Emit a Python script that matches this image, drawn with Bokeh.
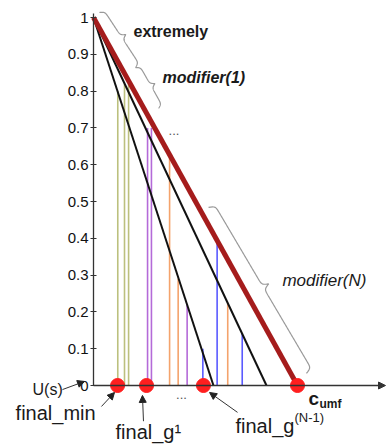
import numpy as np
from bokeh.plotting import figure
from bokeh.models import (LinearAxis, FixedTicker, Range1d, Arrow, NormalHead)
from bokeh.core.properties import value
from bokeh.embed import file_html
from bokeh.resources import INLINE

# ---------------- data ----------------
y_ticks = [0, 0.1, 0.2, 0.3, 0.4, 0.5, 0.6, 0.7, 0.8, 0.9, 1.0]
y_tick_labels = ["0", "0.1", "0.2", "0.3", "0.4", "0.5", "0.6", "0.7", "0.8", "0.9", "1"]

black_intercepts = [0.588, 0.848]     # black lines from (0,1) to (x,0)
red_intercept = 1.0                   # c_umf

vline_x = [0.119, 0.152, 0.172, 0.265, 0.284, 0.373, 0.415, 0.459, 0.536, 0.606, 0.658, 0.729]
vline_top = [0.80, 0.82, 0.82, 0.70, 0.70, 0.62, 0.29, 0.22, 0.10, 0.39, 0.225, 0.14]
vline_group = ["olive", "olive", "olive", "purple", "purple", "orange", "orange",
               "purple", "blue", "blue", "orange", "blue"]
group_colors = {"olive": "#bcc07e", "purple": "#b46ad8", "orange": "#f4a36c", "blue": "#5a5aff"}

dot_x = [0.118, 0.260, 0.539, 1.0]    # final_min, final_g1, final_g(N-1), c_umf

# ---------------- layout constants ----------------
W, H = 388, 446
AX_LEFT = 93          # pixel position of y axis in figure
AX_BOTTOM = 385       # pixel position of y=0 from top
PXX, PXY = 204.0, 368.0

p = figure(width=W, height=H,
           x_range=Range1d(-AX_LEFT / PXX, (W - AX_LEFT) / PXX),
           y_range=Range1d((AX_BOTTOM - H) / PXY, AX_BOTTOM / PXY),
           x_axis_type=None, y_axis_type=None,
           output_backend="svg", toolbar_location=None, min_border=0)
p.outline_line_color = None
p.background_fill_color = "white"
p.border_fill_color = "white"

# y axis at x = 0
yaxis = LinearAxis(fixed_location=0, ticker=FixedTicker(ticks=y_ticks), bounds=(0, 1.01))
yaxis.major_label_overrides = {t: l for t, l in zip(y_ticks, y_tick_labels)}
yaxis.axis_line_color = "#333333"
yaxis.axis_line_width = 1.3
yaxis.major_tick_line_color = "#333333"
yaxis.major_tick_in = 3
yaxis.major_tick_out = 3
yaxis.minor_tick_line_color = None
yaxis.major_label_standoff = 2
yaxis.major_label_text_font = "Liberation Sans"
yaxis.major_label_text_font_size = "15px"
yaxis.major_label_text_color = "#111111"
p.add_layout(yaxis, "left")

# x axis as arrow
x_axis_end = (W - AX_LEFT - 3) / PXX
p.add_layout(Arrow(end=NormalHead(size=7, fill_color="#333333", line_color="#333333"),
                   x_start=0, y_start=0, x_end=x_axis_end, y_end=0,
                   line_color="#333333", line_width=1.3))

# vertical coloured lines
p.segment(x0=vline_x, y0=[0] * len(vline_x), x1=vline_x, y1=vline_top,
          line_color=[group_colors[g] for g in vline_group], line_width=1.6)

# black lines
for b in black_intercepts:
    p.line([0, b], [1, 0], line_color="#111111", line_width=2)
# red line
p.line([0, red_intercept], [1, 0], line_color="#a51c1c", line_width=5)

# dots
p.scatter(dot_x, [0] * len(dot_x), size=14, fill_color="#ff1f1f", line_color="#ff1f1f")


# ---------------- braces ----------------
def brace(xs, ys, xe, ye, h, beta=0.8, n=120):
    ax, ay, bx, by = xs * PXX, ys * PXY, xe * PXX, ye * PXY
    L = np.hypot(bx - ax, by - ay)
    ux, uy = (bx - ax) / L, (by - ay) / L
    vx, vy = -uy, ux
    t = np.linspace(0, L / 2, n)
    prof = 1 / (1 + np.exp(-beta * t)) + 1 / (1 + np.exp(-beta * (t - L / 2))) - 0.5
    prof = prof - prof[0]
    prof = prof / prof[-1] * h
    tt = np.concatenate([t, L - t[::-1]])
    pp = np.concatenate([prof, prof[::-1]])
    px = ax + ux * tt + vx * pp
    py = ay + uy * tt + vy * pp
    return px / PXX, py / PXY


braces = [((0.029, 1.0136), (0.206, 0.864), 10),
          ((0.206, 0.864), (0.319, 0.753), 9),
          ((0.564, 0.484), (1.044, 0.033), 13)]
for (s, e, h) in braces:
    bxs, bys = brace(s[0], s[1], e[0], e[1], h)
    p.line(bxs, bys, line_color="#9a9a9a", line_width=1.2)

# ---------------- texts ----------------
FONT = value("Liberation Sans")


def txt(x, y, s, size, style="normal", color="#1a1a1a", align="left"):
    p.text(x=[x], y=[y], text=[s], text_font=FONT, text_font_size=value(size),
           text_font_style=style, text_color=color, text_align=align,
           text_baseline="middle")


txt(0.196, 0.962, "extremely", "16px", "bold")
txt(0.338, 0.837, "modifier(1)", "16px", "bold italic")
txt(0.368, 0.692, "...", "13px", "normal", "#555555")
txt(0.926, 0.285, "modifier(N)", "17px", "italic")
txt(-0.299, -0.011, "U(s)", "16px")
txt(-0.382, -0.076, "final_min", "20px")
txt(0.108, -0.127, "final_g\u00b9", "20px")
txt(0.405, -0.024, "...", "13px", "normal", "#555555")
txt(0.696, -0.109, "final_g", "20px")
txt(0.985, -0.087, "(N-1)", "13px")
txt(1.054, -0.035, "c", "19px", "bold")
txt(1.108, -0.049, "umf", "12px", "bold")

arrows = [((-0.152, -0.011), (-0.044, 0.011)),
          ((0.039, -0.057), (0.103, -0.019)),
          ((0.245, -0.097), (0.240, -0.027)),
          ((0.706, -0.073), (0.569, -0.019))]
for (s, e) in arrows:
    p.add_layout(Arrow(end=NormalHead(size=7, fill_color="#222222", line_color="#222222"),
                       x_start=s[0], y_start=s[1], x_end=e[0], y_end=e[1],
                       line_color="#333333", line_width=1))

open("out.html", "w").write(file_html(p, INLINE))
